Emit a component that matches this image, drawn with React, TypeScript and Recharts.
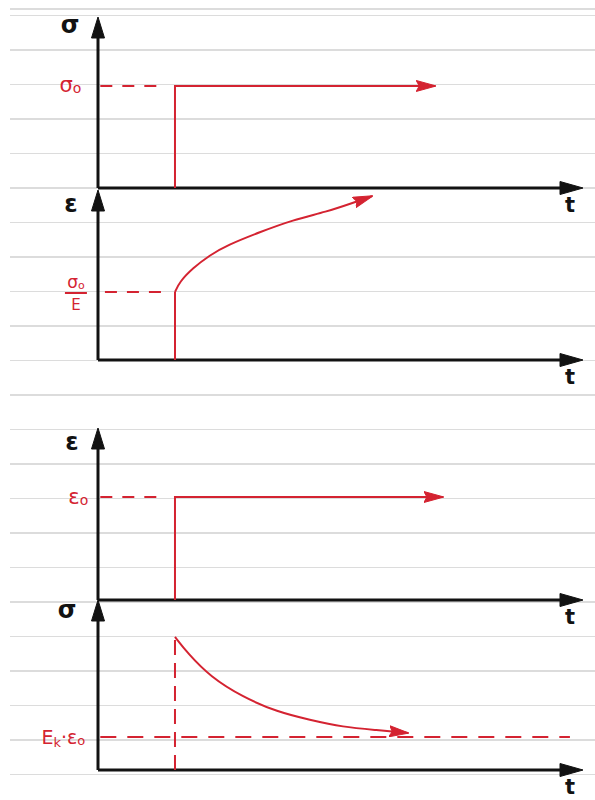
import { LineChart, Line, XAxis, YAxis, ReferenceLine } from "recharts";

const RED = "#d42331";
const INK = "#121212";
const HAND = "'DejaVu Sans', sans-serif";

// shared time axis, load applied at t = 1
const T_END = 6.3;
const T_LOAD = 1;

// creep: stress held at σ0
const stressStepT = [T_LOAD, T_LOAD, 4.38];
const stressStepV = [0, 1, 1];

// creep strain: elastic jump to σ0/E, then delayed growth
const jumpT = [T_LOAD, T_LOAD];
const jumpV = [0, 1];
const creepT = [1.0, 1.06, 1.23, 1.45, 1.68, 2.1, 2.53, 2.97, 3.31, 3.56];
const creepV = [1.0, 1.15, 1.35, 1.54, 1.69, 1.88, 2.06, 2.18, 2.31, 2.41];

// relaxation: strain held at ε0
const strainStepT = [T_LOAD, T_LOAD, 4.48];
const strainStepV = [0, 1, 1];

// relaxing stress, in units of Ek·ε0
const relaxT = [1.0, 1.16, 1.46, 1.88, 2.33, 2.75, 3.18, 3.62, 4.03];
const relaxV = [4.03, 3.55, 2.82, 2.21, 1.76, 1.52, 1.3, 1.21, 1.12];

const zip = (ts: number[], vs: number[]) => ts.map((t, i) => ({ t, v: vs[i] }));

// line with a filled triangular head at its end point
const arrowShape = (len: number, half: number) => (p: any) => {
  const { x1, y1, x2, y2, stroke, strokeWidth } = p;
  const a = Math.atan2(y2 - y1, x2 - x1);
  const bx = x2 - len * Math.cos(a);
  const by = y2 - len * Math.sin(a);
  const nx = -Math.sin(a) * half;
  const ny = Math.cos(a) * half;
  return (
    <g>
      <line x1={x1} y1={y1} x2={bx + 2 * Math.cos(a)} y2={by + 2 * Math.sin(a)} stroke={stroke} strokeWidth={strokeWidth} />
      <polygon points={`${x2},${y2} ${bx + nx},${by + ny} ${bx - nx},${by - ny}`} fill={stroke} stroke={stroke} strokeWidth={1} strokeLinejoin="round" />
    </g>
  );
};

const axisName = (name: string, dx: number, dy: number) => (p: any) => (
  <text x={p.viewBox.x + dx} y={p.viewBox.y + dy} textAnchor="middle" fill={INK} fontFamily={HAND} fontSize={24} fontWeight="bold">
    {name}
  </text>
);

const timeName = (p: any) => (
  <text x={p.viewBox.x + p.viewBox.width - 13} y={p.viewBox.y + 24} textAnchor="middle" fill={INK} fontFamily={HAND} fontSize={21} fontWeight="bold">
    t
  </text>
);

const sigma0Label = (p: any) => (
  <text x={p.viewBox.x - 19} y={p.viewBox.y + 6} textAnchor="end" fill={RED} fontFamily={HAND} fontSize={21}>
    σ<tspan fontSize={14} dy={1}>o</tspan>
  </text>
);

const fractionLabel = (p: any) => {
  const cx = p.viewBox.x - 29;
  const y = p.viewBox.y;
  return (
    <g fill={RED} fontFamily={HAND}>
      <text x={cx} y={y - 4} textAnchor="middle" fontSize={17}>
        σ<tspan fontSize={11} dy={1}>o</tspan>
      </text>
      <line x1={cx - 11} x2={cx + 11} y1={y + 1} y2={y + 1} stroke={RED} strokeWidth={2} />
      <text x={cx} y={y + 18} textAnchor="middle" fontSize={15}>E</text>
    </g>
  );
};

const eps0Label = (p: any) => (
  <text x={p.viewBox.x - 12} y={p.viewBox.y + 7} textAnchor="end" fill={RED} fontFamily={HAND} fontSize={21}>
    ε<tspan fontSize={14} dy={1}>o</tspan>
  </text>
);

const ekLabel = (p: any) => (
  <text x={p.viewBox.x - 15} y={p.viewBox.y + 7} textAnchor="end" fill={RED} fontFamily={HAND} fontSize={19}>
    E<tspan fontSize={13} dy={3}>k</tspan>
    <tspan dy={-3}>·ε</tspan>
    <tspan fontSize={13} dy={1}>o</tspan>
  </text>
);

interface PanelProps {
  id: string;
  top: number;
  bottom: number;
  yMax: number;
  yName: string;
  nameDx: number;
  nameDy: number;
  children?: any;
}

const Panel = ({ id, top, bottom, yMax, yName, nameDx, nameDy, children }: PanelProps) => (
  <div style={{ position: "absolute", left: 0, top: 0 }}>
    <LineChart width={595} height={800} margin={{ top, bottom: 800 - bottom, left: 98, right: 12 }}>
      <defs>
        <marker id={id} viewBox="0 0 20 12" refX={19} refY={6} markerWidth={20} markerHeight={12} markerUnits="userSpaceOnUse" orient="auto">
          <path d="M0,0.5 L20,6 L0,11.5 L3,6 Z" fill={RED} stroke={RED} strokeWidth={1} strokeLinejoin="round" />
        </marker>
      </defs>
      <XAxis type="number" dataKey="t" domain={[0, T_END]} hide />
      <YAxis type="number" dataKey="v" domain={[0, yMax]} hide />
      <ReferenceLine segment={[{ x: 0, y: 0 }, { x: T_END, y: 0 }]} stroke={INK} strokeWidth={3} shape={arrowShape(23, 6.5)} label={timeName} />
      <ReferenceLine segment={[{ x: 0, y: 0 }, { x: 0, y: yMax }]} stroke={INK} strokeWidth={3} shape={arrowShape(21, 6.5)} label={axisName(yName, nameDx, nameDy)} />
      {children}
    </LineChart>
  </div>
);

export default function App() {
  return (
    <div style={{ position: "relative", width: 595, height: 800, background: "#fff", overflow: "hidden" }}>
      <style>{"body{margin:0}"}</style>
      <div
        style={{
          position: "absolute",
          left: 10,
          top: 0,
          width: 585,
          height: 800,
          backgroundImage: "repeating-linear-gradient(to bottom, #dcdcdc 0px, #dcdcdc 1.2px, transparent 1.2px, transparent 34.5px)",
          backgroundPosition: "0 15px",
        }}
      />

      {/* creep: applied stress */}
      <Panel id="h1" top={17} bottom={188} yMax={1.676} yName="σ" nameDx={-28} nameDy={16}>
        <ReferenceLine segment={[{ x: 0.03, y: 1 }, { x: 0.87, y: 1 }]} stroke={RED} strokeWidth={2} strokeDasharray="12 10" label={sigma0Label} />
        <Line data={zip(stressStepT, stressStepV)} dataKey="v" type="linear" stroke={RED} strokeWidth={2} dot={false} activeDot={false} markerEnd="url(#h1)" isAnimationActive={false} />
      </Panel>

      {/* creep: strain response */}
      <Panel id="h2" top={190} bottom={360} yMax={2.5} yName="ε" nameDx={-27} nameDy={22}>
        <ReferenceLine segment={[{ x: 0.09, y: 1 }, { x: 0.84, y: 1 }]} stroke={RED} strokeWidth={2} strokeDasharray="12 10" label={fractionLabel} />
        <Line data={zip(jumpT, jumpV)} dataKey="v" type="linear" stroke={RED} strokeWidth={2} dot={false} activeDot={false} isAnimationActive={false} />
        <Line data={zip(creepT, creepV)} dataKey="v" type="basis" stroke={RED} strokeWidth={2} dot={false} activeDot={false} markerEnd="url(#h2)" isAnimationActive={false} />
      </Panel>

      {/* relaxation: applied strain */}
      <Panel id="h3" top={428} bottom={600} yMax={1.67} yName="ε" nameDx={-26} nameDy={22}>
        <ReferenceLine segment={[{ x: 0.03, y: 1 }, { x: 0.84, y: 1 }]} stroke={RED} strokeWidth={2} strokeDasharray="12 10" label={eps0Label} />
        <Line data={zip(strainStepT, strainStepV)} dataKey="v" type="linear" stroke={RED} strokeWidth={2} dot={false} activeDot={false} markerEnd="url(#h3)" isAnimationActive={false} />
      </Panel>

      {/* relaxation: stress response */}
      <Panel id="h4" top={600} bottom={770} yMax={5.15} yName="σ" nameDx={-31} nameDy={18}>
        <ReferenceLine segment={[{ x: 0.03, y: 1 }, { x: 6.13, y: 1 }]} stroke={RED} strokeWidth={2} strokeDasharray="16 11" label={ekLabel} />
        <ReferenceLine segment={[{ x: T_LOAD, y: 0 }, { x: T_LOAD, y: 4.03 }]} stroke={RED} strokeWidth={2} strokeDasharray="15 8" />
        <Line data={zip(relaxT, relaxV)} dataKey="v" type="basis" stroke={RED} strokeWidth={2} dot={false} activeDot={false} markerEnd="url(#h4)" isAnimationActive={false} />
      </Panel>
    </div>
  );
}
